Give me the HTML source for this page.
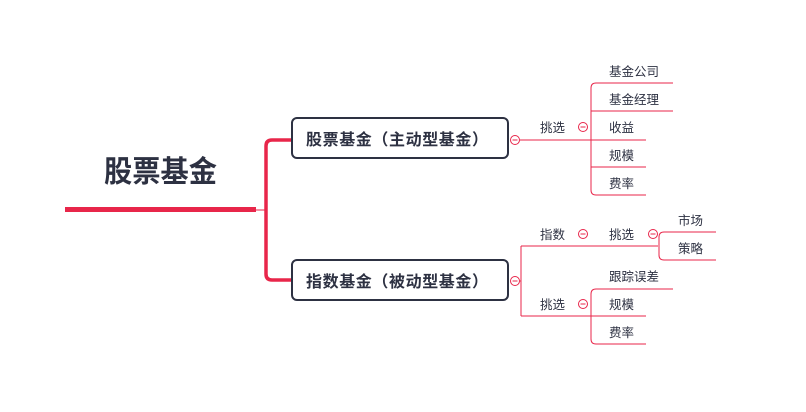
<!DOCTYPE html>
<html><head><meta charset="utf-8"><style>
html,body{margin:0;padding:0;background:#fff;width:806px;height:412px;overflow:hidden}
text{font-family:"Liberation Sans","Noto Sans CJK SC",sans-serif;fill:#2d3142}
</style></head><body>
<svg width="806" height="412" viewBox="0 0 806 412" xmlns="http://www.w3.org/2000/svg">
<g fill="none" stroke="#e8264a">
<line x1="65" y1="209.5" x2="256" y2="209.5" stroke-width="5"/>
<line x1="256" y1="210" x2="266" y2="210" stroke-width="1"/>
<path d="M292 140 H272 Q266 140 266 146 V274 Q266 280 272 280 H292" stroke-width="3.5"/>
<path d="M520 140 H591" stroke-width="1"/>
<path d="M673 83 H596 Q591 83 591 88 V190 Q591 195 596 195 H646 M591 111 H673 M591 140 H646 M591 167 H646" stroke-width="1"/>
<path d="M520 281 H521 M521 246 V316 M521 246 H658 M521 316 H591" stroke-width="1"/>
<path d="M716 232 H664 Q659 232 659 237 V255 Q659 260 664 260 H716" stroke-width="1"/>
<path d="M673 289 H596 Q591 289 591 294 V339 Q591 344 596 344 H646 M591 316 H646" stroke-width="1"/>
</g>
<g fill="#fff" stroke="#e8264a" stroke-width="1">
<circle cx="515" cy="140" r="4.5"/><circle cx="583" cy="127" r="4.5"/>
<circle cx="515" cy="281" r="4.5"/><circle cx="583" cy="234" r="4.5"/>
<circle cx="653" cy="234" r="4.5"/><circle cx="583" cy="304" r="4.5"/>
</g>
<g stroke="#e8264a" stroke-width="1">
<line x1="512.5" y1="140" x2="517.5" y2="140"/><line x1="580.5" y1="127" x2="585.5" y2="127"/>
<line x1="512.5" y1="281" x2="517.5" y2="281"/><line x1="580.5" y1="234" x2="585.5" y2="234"/>
<line x1="650.5" y1="234" x2="655.5" y2="234"/><line x1="580.5" y1="304" x2="585.5" y2="304"/>
</g>
<rect x="292" y="118" width="216" height="40" rx="5" fill="#fff" stroke="#2d3142" stroke-width="2"/>
<rect x="292" y="260" width="216" height="40" rx="5" fill="#fff" stroke="#2d3142" stroke-width="2"/>
<text x="104" y="182" font-size="30" font-weight="bold" textLength="113" lengthAdjust="spacingAndGlyphs">股票基金</text>
<text x="306" y="145" font-size="16" font-weight="bold" textLength="182" lengthAdjust="spacing">股票基金（主动型基金）</text>
<text x="306" y="287" font-size="16" font-weight="bold" textLength="182" lengthAdjust="spacing">指数基金（被动型基金）</text>
<g font-size="12.5">
<text x="540" y="132">挑选</text>
<text x="609" y="76">基金公司</text>
<text x="609" y="104">基金经理</text>
<text x="609" y="132">收益</text>
<text x="609" y="160">规模</text>
<text x="609" y="188">费率</text>
<text x="540" y="239">指数</text>
<text x="609" y="239">挑选</text>
<text x="678" y="225">市场</text>
<text x="678" y="253">策略</text>
<text x="540" y="309">挑选</text>
<text x="609" y="281">跟踪误差</text>
<text x="609" y="309">规模</text>
<text x="609" y="337">费率</text>
</g>
</svg>
</body></html>
